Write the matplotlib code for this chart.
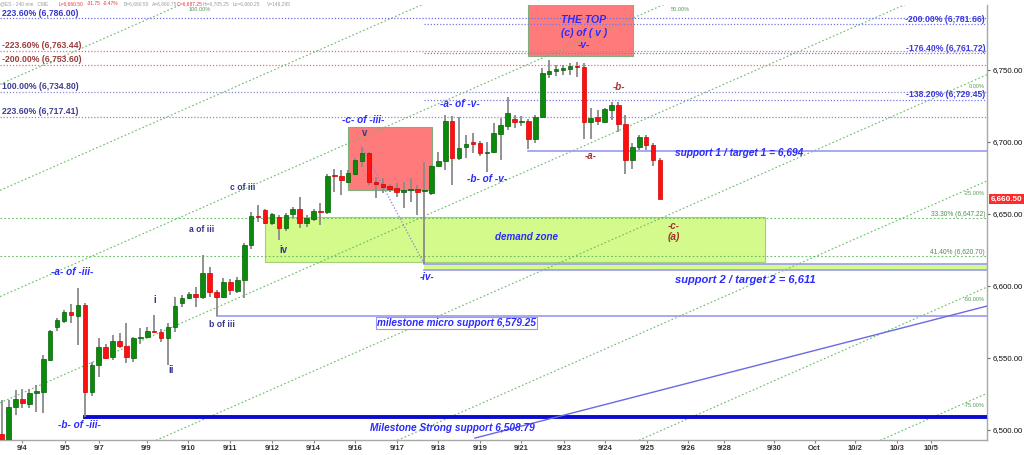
import matplotlib
matplotlib.use("Agg")
import matplotlib.pyplot as plt
import matplotlib.transforms as mtransforms
from matplotlib.patches import Rectangle
import numpy as np

plt.rcParams['font.family'] = ['Liberation Sans', 'DejaVu Sans']

# ---------------- data (240-min ES bars) ----------------
opens = [6497.0, 6489.0, 6516.2, 6521.3, 6518.0, 6526.0, 6526.6, 6548.6, 6571.7, 6575.7,
         6582.2, 6579.4, 6586.8, 6526.6, 6545.1, 6557.8, 6550.5, 6562.0, 6558.3, 6549.8,
         6563.7, 6564.8, 6568.7, 6568.3, 6563.7, 6571.7, 6588.4, 6591.9, 6594.4, 6592.1,
         6608.8, 6596.0, 6592.6, 6602.6, 6596.7, 6604.2, 6628.5, 6648.6, 6652.8, 6643.5,
         6648.1, 6640.1, 6649.8, 6653.5, 6644.0, 6646.3, 6652.3, 6651.2, 6677.0, 6676.4,
         6672.4, 6677.8, 6687.0, 6692.2, 6672.4, 6670.8, 6669.4, 6667.8, 6665.5, 6666.7,
         6667.4, 6666.0, 6664.4, 6683.3, 6687.0, 6714.8, 6688.7, 6696.3, 6699.8, 6699.1,
         6692.2, 6693.3, 6705.6, 6711.1, 6716.0, 6713.9, 6714.8, 6701.9, 6717.6, 6747.2,
         6749.5, 6750.3, 6750.5, 6752.8, 6751.9, 6714.1, 6717.2, 6714.1, 6722.2, 6725.7,
         6712.5, 6687.5, 6696.7, 6703.3, 6697.9, 6687.25]
highs = [6521.0, 6521.0, 6527.8, 6528.3, 6528.3, 6531.3, 6552.0, 6569.5, 6577.6, 6583.3,
         6587.5, 6598.4, 6588.0, 6547.4, 6563.7, 6560.0, 6566.0, 6567.1, 6574.1, 6564.8,
         6570.6, 6571.7, 6579.9, 6570.0, 6574.1, 6592.6, 6593.7, 6596.0, 6599.5, 6621.5,
         6613.4, 6597.0, 6605.4, 6605.0, 6606.0, 6629.6, 6651.6, 6656.3, 6653.5, 6651.0,
         6649.0, 6650.5, 6655.0, 6662.0, 6649.0, 6653.5, 6657.9, 6677.5, 6681.0, 6680.6,
         6680.6, 6688.7, 6696.7, 6693.3, 6675.9, 6674.8, 6670.5, 6671.3, 6672.4, 6675.2,
         6670.1, 6686.3, 6684.0, 6693.3, 6718.8, 6718.1, 6717.6, 6704.9, 6706.0, 6701.0,
         6700.2, 6713.0, 6716.5, 6731.5, 6718.8, 6718.0, 6715.8, 6718.8, 6751.2, 6756.9,
         6753.5, 6753.5, 6754.7, 6755.8, 6755.1, 6723.4, 6722.2, 6723.6, 6728.0, 6728.0,
         6718.8, 6699.1, 6704.9, 6704.9, 6699.0, 6689.0]
lows = [6488.0, 6488.0, 6510.4, 6515.0, 6515.0, 6512.7, 6512.0, 6548.0, 6569.0, 6574.5,
        6574.5, 6559.0, 6508.79, 6523.6, 6536.6, 6549.0, 6548.6, 6556.7, 6546.7, 6547.4,
        6560.0, 6564.0, 6567.1, 6561.0, 6545.1, 6568.3, 6585.7, 6590.8, 6585.7, 6590.8,
        6592.6, 6579.25, 6591.5, 6593.7, 6594.9, 6591.5, 6625.5, 6644.7, 6643.0, 6642.4,
        6632.0, 6638.0, 6647.0, 6640.1, 6641.2, 6645.0, 6642.4, 6650.0, 6665.5, 6663.2,
        6671.3, 6677.1, 6682.4, 6670.1, 6660.9, 6664.4, 6665.5, 6662.0, 6654.0, 6658.5,
        6649.3, 6615.0, 6663.2, 6682.4, 6680.6, 6670.1, 6687.5, 6688.7, 6692.2, 6690.0,
        6679.4, 6692.2, 6687.5, 6708.3, 6709.5, 6711.0, 6694.9, 6699.1, 6716.5, 6744.2,
        6745.8, 6746.5, 6746.5, 6745.0, 6701.9, 6701.9, 6711.8, 6713.0, 6715.3, 6707.2,
        6677.8, 6681.0, 6694.4, 6694.4, 6683.3, 6660.25]
closes = [6489.0, 6516.2, 6521.3, 6518.5, 6526.0, 6527.0, 6549.1, 6569.0, 6576.4, 6582.2,
          6579.9, 6586.8, 6526.6, 6545.1, 6557.8, 6550.2, 6562.0, 6558.3, 6550.9, 6563.7,
          6564.8, 6568.7, 6568.0, 6563.7, 6571.7, 6586.1, 6591.9, 6594.2, 6592.1, 6609.2,
          6596.0, 6592.6, 6603.0, 6597.2, 6604.2, 6628.5, 6648.6, 6648.0, 6644.0, 6650.0,
          6640.1, 6649.3, 6653.5, 6643.5, 6647.4, 6652.3, 6651.4, 6676.6, 6676.5, 6673.6,
          6678.3, 6687.5, 6692.2, 6672.4, 6670.6, 6669.0, 6667.6, 6665.5, 6666.7, 6667.6,
          6665.5, 6666.3, 6683.3, 6687.0, 6714.8, 6688.7, 6695.6, 6698.6, 6698.8, 6692.2,
          6692.5, 6706.0, 6711.8, 6719.9, 6714.1, 6714.8, 6701.9, 6717.6, 6747.7, 6749.5,
          6750.5, 6750.8, 6752.8, 6751.9, 6714.1, 6716.5, 6714.8, 6722.7, 6725.7, 6712.5,
          6687.5, 6696.7, 6703.3, 6697.9, 6687.5, 6660.5]

date_labels = ["9/4", "9/5", "9/7", "9/9", "9/10", "9/11", "9/12", "9/14", "9/16", "9/17",
               "9/18", "9/19", "9/21", "9/23", "9/24", "9/25", "9/26", "9/28", "9/30", "Oct",
               "10/2", "10/3", "10/5"]
date_tick_pos = [2.9, 9.1, 14.0, 20.9, 26.9, 32.9, 39.0, 45.0, 51.0, 57.0,
                 63.0, 69.0, 74.9, 81.1, 87.1, 93.1, 99.1, 104.2, 111.4, 117.3,
                 123.2, 129.2, 134.1]

price_ticks = [6500, 6550, 6600, 6650, 6700, 6750]
last_price = 6660.50

left_fib_pcts = ["223.60%", "-223.60%", "-200.00%", "100.00%", "223.60%"]
left_fib_values = [6786.00, 6763.44, 6753.60, 6734.80, 6717.41]
right_fib_pcts = ["-200.00%", "-176.40%", "-138.20%"]
right_fib_values = [6781.66, 6761.72, 6729.45]
green_fib_pcts = ["33.30%", "41.40%"]
green_fib_values = [6647.22, 6620.70]

channel_pcts = [100, 75, 50, 25, 0, -25, -50, -75]
channel_labels = ["100.00%", None, "50.00%", None, "0.00%", "-25.00%", "-50.00%", "-75.00%"]
channel_base = 6445.66     # 0% line at bar 0
channel_slope = 2.1175     # points per bar
channel_step = 73.75       # points per 25%

support1 = 6694.0
support2 = 6611.0
wave_iv_low = 6615.0
micro_support = 6579.25
strong_support = 6508.79
wave_v_high = 6696.7

demand_zone = (6616.9, 6648.0)
v_box = (6666.7, 6710.2)
top_box = (6759.7, 6805.0)

# ---------------- figure ----------------
W, H = 1024, 455
fig = plt.figure(figsize=(W / 100, H / 100), dpi=100)
ax = fig.add_axes([0, 15 / H, 987 / W, 435 / H])
XMIN, XMAX = -0.245, 142.18
YMIN, YMAX = 6493.06, 6795.14
ax.set_xlim(XMIN, XMAX)
ax.set_ylim(YMIN, YMAX)
ytr = ax.get_yaxis_transform()

n = len(opens)
xs = np.arange(n)

# boxes / zones
ax.add_patch(Rectangle((38.0, demand_zone[0]), 72.1, demand_zone[1] - demand_zone[0],
                       facecolor='#d4fa8c', edgecolor='#9fd07a', lw=0.8, zorder=1))
ax.add_patch(Rectangle((50.0, v_box[0]), 12.05, v_box[1] - v_box[0],
                       facecolor='#ff7b7b', edgecolor='#7fae7f', lw=0.8, zorder=1))
ax.add_patch(Rectangle((76.0, top_box[0]), 15.1, top_box[1] - top_box[0],
                       facecolor='#ff7b7b', edgecolor='#7fae7f', lw=0.8, zorder=1))
# strip between wave -iv- low and support 2
ax.fill_between([61, XMAX], support2, wave_iv_low, color='#d4fa8c', zorder=1, lw=0)

# channel lines
cx = np.array([XMIN, XMAX])
for pct, lab in zip(channel_pcts, channel_labels):
    off = channel_base + channel_step * pct / 25
    ax.plot(cx, off + channel_slope * cx, color='#66bb66', lw=0.8,
            ls=(0, (1.5, 2)), zorder=2)
    if lab is None:
        continue
    yend = off + channel_slope * XMAX
    if yend > YMAX:
        xt = (YMAX - off) / channel_slope
        ax.text(xt + 1.2, YMAX - 2.8, lab, fontsize=4.1, color='#559955',
                ha='left', va='center', zorder=6)
    else:
        ax.text(0.998, yend - 8.5, lab, transform=ytr, fontsize=4.1, color='#559955',
                ha='right', va='center', zorder=6)

# horizontal fib levels (left)
left_line_colors = ['#6f6fe6', '#e07272', '#e07272', '#8a8ad0', '#8a8ad0']
left_text_colors = ['#3535cc', '#9a3b3b', '#9a3b3b', '#3d3d8f', '#3d3d8f']
for pct, val, lc, tc in zip(left_fib_pcts, left_fib_values, left_line_colors, left_text_colors):
    ax.plot([XMIN, XMAX], [val, val], color=lc, lw=0.9, ls=(0, (1, 1.5)), zorder=2)
    ax.annotate(f"{pct} ({val:,.2f})", xy=(0.002, val), xycoords=ytr,
                xytext=(0, 1.8), textcoords='offset points', fontsize=6.2,
                fontweight='bold', color=tc, ha='left', va='baseline', zorder=6)
# horizontal fib levels (right, from wave -iv-)
for pct, val in zip(right_fib_pcts, right_fib_values):
    ax.plot([61, XMAX], [val, val], color='#7777e6', lw=0.9, ls=(0, (1, 1.5)), zorder=2)
    ax.annotate(f"{pct} ({val:,.2f})", xy=(0.998, val), xycoords=ytr,
                xytext=(0, 1.8), textcoords='offset points', fontsize=6.2,
                fontweight='bold', color='#3a3ae0', ha='right', va='baseline', zorder=6)
# green retracement levels
for pct, val in zip(green_fib_pcts, green_fib_values):
    ax.plot([XMIN, XMAX], [val, val], color='#66bb66', lw=0.8, ls=(0, (1.5, 2)), zorder=2)
    ax.annotate(f"{pct} ({val:,.2f})", xy=(0.998, val), xycoords=ytr,
                xytext=(0, 1.5), textcoords='offset points', fontsize=4.8,
                color='#4f8f4f', ha='right', va='baseline', zorder=6)

# supports
ax.plot([76, XMAX], [support1, support1], color='#9a9af0', lw=1.2, zorder=3)
ax.plot([61, XMAX], [support2, support2], color='#9a9af0', lw=1.2, zorder=3)
ax.plot([61, XMAX], [wave_iv_low, wave_iv_low], color='#9a9af0', lw=1.2, zorder=3)
ax.plot([31, XMAX], [micro_support, micro_support], color='#9a9af0', lw=1.2, zorder=3)
ax.plot([12, XMAX], [strong_support, strong_support], color='#0a0ad0', lw=2.8, zorder=3)
# trend line and wave v -> iv line
ax.plot([68.3, 142.2], [6494.4, 6586.1], color='#6a6ae0', lw=1.0, zorder=3)
ax.plot([52, 61], [wave_v_high, wave_iv_low], color='#8080e0', lw=0.9,
        ls=(0, (1, 1.5)), zorder=3)

# candles
ax.vlines(xs, lows, highs, color='#8a8a8a', lw=1.3, zorder=4)
o = np.array(opens); c = np.array(closes)
up = c >= o
bottoms = np.minimum(o, c)
heights = np.maximum(np.abs(c - o), 0.9)
ax.bar(xs[up], heights[up], bottom=bottoms[up], width=0.66, color='#0b8a0b',
       edgecolor='#056005', lw=0.5, zorder=5)
ax.bar(xs[~up], heights[~up], bottom=bottoms[~up], width=0.66, color='#ff1010',
       edgecolor='#d00000', lw=0.5, zorder=5)

# ---------------- annotations ----------------
blue = '#2b2bff'
navy = '#34348c'
dred = '#a03434'
bi = dict(fontweight='bold', fontstyle='italic', ha='center', va='center', zorder=7)

ax.text(10.1, 6609.7, "-a- of -iii-", fontsize=7.2, color=blue, **bi)
ax.text(11.2, 6503.5, "-b- of -iii-", fontsize=7.2, color=blue, **bi)
ax.text(52.1, 6715.3, "-c- of -iii-", fontsize=7.2, color=blue, **bi)
ax.text(61.4, 6606.3, "-iv-", fontsize=7.0, color=blue, **bi)
ax.text(66.1, 6726.4, "-a- of -v-", fontsize=7.2, color=blue, **bi)
ax.text(70.0, 6674.3, "-b- of -v-", fontsize=7.2, color=blue, **bi)
ax.text(84.0, 6784.7, "THE TOP", fontsize=7.6, color=blue, **bi)
ax.text(84.0, 6776.0, "(c) of ( v )", fontsize=7.4, color=blue, **bi)
ax.text(84.0, 6767.7, "-v-", fontsize=7.2, color=blue, **bi)
ax.text(75.8, 6633.7, "demand zone", fontsize=7.1, color=blue, **bi)

ax.text(85.0, 6690.3, "-a-", fontsize=7.0, color=dred, **bi)
ax.text(89.1, 6738.2, "-b-", fontsize=7.0, color=dred, **bi)
ax.text(97.0, 6641.7, "-c-", fontsize=7.0, color=dred, **bi)
ax.text(97.0, 6633.7, "(a)", fontsize=7.3, color=dred, **bi)

lb = dict(fontweight='bold', fontstyle='italic', ha='left', va='center', zorder=7, color=blue)
ax.text(97.2, 6692.4, f"support 1 / target 1 = {support1:,.0f}", fontsize=7.3, **lb)
ax.text(97.2, 6604.2, f"support 2 / target 2 = {support2:,.0f}", fontsize=8.0, **lb)
ax.text(54.1, 6574.3, f"milestone micro support {micro_support:,.2f}", fontsize=7.2,
        bbox=dict(boxstyle='square,pad=0.1', fc='white', ec='#9a9af0', lw=0.8), **lb)
ax.text(53.2, 6501.4, f"Milestone Strong support {strong_support:,.2f}", fontsize=7.3, **lb)

nb = dict(fontweight='bold', ha='center', va='center', zorder=7, color=navy)
ax.text(34.8, 6668.75, "c of iii", fontsize=6.2, **nb)
ax.text(28.8, 6638.9, "a of iii", fontsize=6.2, **nb)
ax.text(31.8, 6573.6, "b of iii", fontsize=6.2, **nb)
ax.text(40.6, 6625.0, "iv", fontsize=6.9, **nb)
ax.text(22.1, 6590.3, "i", fontsize=6.9, **nb)
ax.text(24.4, 6541.7, "ii", fontsize=6.9, **nb)
ax.text(52.4, 6706.2, "v", fontsize=6.9, **nb)

# ---------------- axes styling ----------------
for s in ['top', 'left']:
    ax.spines[s].set_visible(False)
for s in ['right', 'bottom']:
    ax.spines[s].set_color('#a8a8a8')
    ax.spines[s].set_linewidth(1.0)
ax.yaxis.tick_right()
ax.set_yticks(price_ticks)
ax.set_yticklabels([f"{v:,.2f}" for v in price_ticks])
ax.tick_params(axis='y', length=2.5, width=0.8, pad=1.2, labelsize=5.7,
               colors='#666666', labelcolor='#111111')
ax.set_xticks(date_tick_pos)
ax.set_xticklabels(date_labels, fontweight='bold')
ax.tick_params(axis='x', length=2, width=0.8, pad=1.5, labelsize=5.5,
               colors='#888888', labelcolor='#333333')

# last-price tag
ax.annotate(f"{last_price:,.2f}", xy=(1.0, last_price), xycoords=ytr,
            xytext=(2.5, 0), textcoords='offset points', ha='left', va='center',
            fontsize=5.8, color='white', fontweight='bold',
            bbox=dict(boxstyle='square,pad=0.2', fc='#ff2a2a', ec='none'),
            annotation_clip=False, zorder=8)

# header line
header = [("@ES - 240 min   CME", 0, '#9a9a9a'), ("L=6,660.50", 59, '#ee3333'),
          ("-31.75", 87, '#ee3333'), ("-0.47%", 103, '#ee3333'),
          ("B=6,660.50", 124, '#9a9a9a'), ("A=6,660.75", 152, '#9a9a9a'),
          ("O=6,687.25", 177, '#ee3333'), ("Hi=6,705.25", 203, '#9a9a9a'),
          ("Lo=6,660.25", 233, '#9a9a9a'), ("V=146,295", 267, '#9a9a9a')]
for txt, px, col in header:
    fig.text(px / W, 1 - 3.5 / H, txt, fontsize=3.5, color=col, ha='left', va='center')

fig.savefig("out.png", dpi=100)
